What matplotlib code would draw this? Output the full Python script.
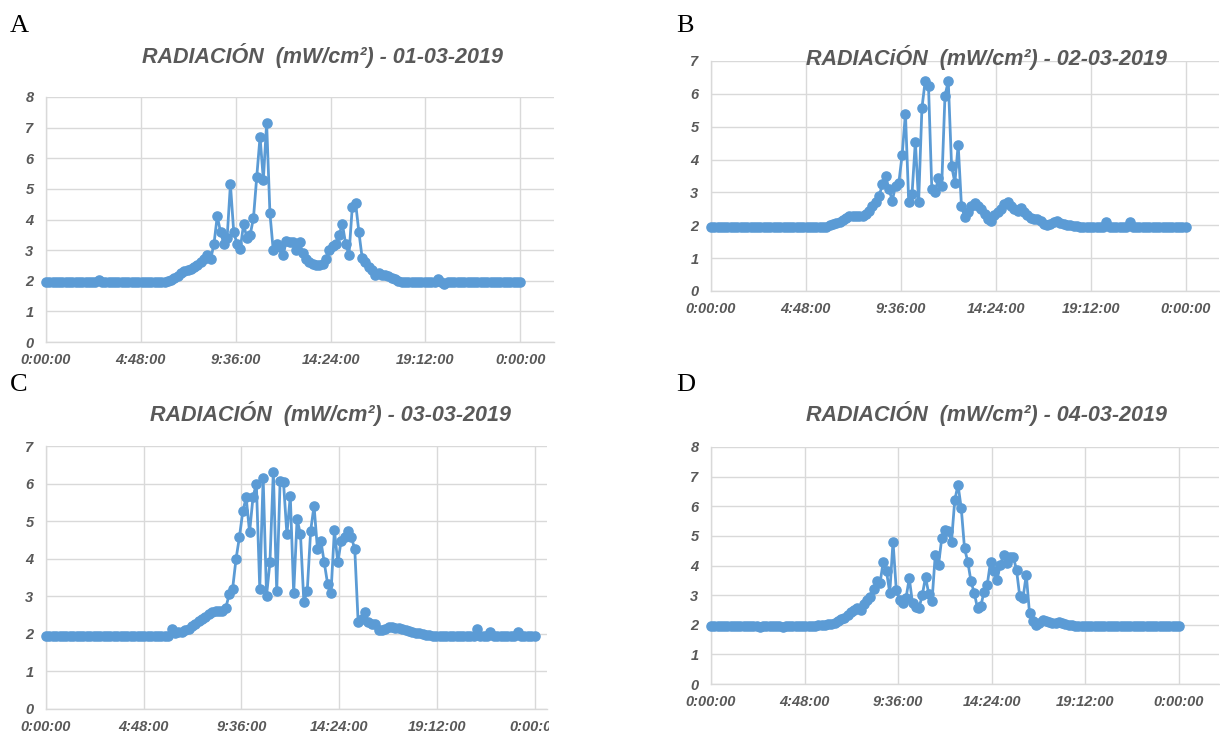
import matplotlib
matplotlib.use("Agg")
import matplotlib.pyplot as plt
from matplotlib.transforms import Bbox
import numpy as np

# sampling grid: one reading every 10 minutes, 0:00 -> 24:00 (hours)
hours = np.arange(145) / 6

# radiation readings (mW/cm2), rows of 2 hours
rad_01 = [
    1.95, 1.95, 1.95, 1.95, 1.95, 1.95, 1.95, 1.95, 1.95, 1.95, 1.95, 1.95,
    1.95, 1.95, 1.95, 1.95, 2.03, 1.95, 1.95, 1.95, 1.95, 1.95, 1.95, 1.95,
    1.95, 1.95, 1.95, 1.95, 1.95, 1.95, 1.95, 1.95, 1.95, 1.95, 1.95, 1.95,
    1.96, 1.98, 2.02, 2.08, 2.15, 2.25, 2.33, 2.35, 2.38, 2.45, 2.52, 2.60,
    2.70, 2.85, 2.70, 3.20, 4.10, 3.60, 3.20, 3.40, 5.15, 3.60, 3.20, 3.05,
    3.85, 3.40, 3.50, 4.05, 5.40, 6.70, 5.30, 7.15, 4.20, 3.00, 3.20, 3.10,
    2.85, 3.30, 3.25, 3.25, 3.00, 3.25, 2.90, 2.70, 2.60, 2.55, 2.50, 2.50,
    2.55, 2.70, 3.00, 3.15, 3.20, 3.50, 3.85, 3.20, 2.85, 4.40, 4.55, 3.60,
    2.75, 2.60, 2.45, 2.35, 2.20, 2.25, 2.20, 2.20, 2.15, 2.10, 2.05, 2.00,
    1.97, 1.95, 1.95, 1.95, 1.95, 1.95, 1.95, 1.95, 1.95, 1.95, 1.95, 2.07,
    1.95, 1.90, 1.95, 1.95, 1.95, 1.95, 1.95, 1.95, 1.95, 1.95, 1.95, 1.95,
    1.95, 1.95, 1.95, 1.95, 1.95, 1.95, 1.95, 1.95, 1.95, 1.95, 1.95, 1.95,
    1.95,
]

rad_02 = [
    1.95, 1.95, 1.95, 1.95, 1.95, 1.95, 1.95, 1.95, 1.95, 1.95, 1.95, 1.95,
    1.95, 1.95, 1.95, 1.95, 1.95, 1.95, 1.95, 1.95, 1.95, 1.95, 1.95, 1.95,
    1.95, 1.95, 1.95, 1.95, 1.95, 1.95, 1.95, 1.95, 1.95, 1.95, 1.95, 1.96,
    2.00, 2.03, 2.06, 2.10, 2.15, 2.22, 2.27, 2.28, 2.27, 2.27, 2.28, 2.35,
    2.45, 2.58, 2.72, 2.88, 3.25, 3.50, 3.10, 2.75, 3.20, 3.30, 4.15, 5.40,
    2.70, 2.95, 4.55, 2.70, 5.57, 6.40, 6.23, 3.10, 3.00, 3.45, 3.20, 5.95,
    6.38, 3.80, 3.30, 4.45, 2.58, 2.25, 2.40, 2.60, 2.68, 2.60, 2.50, 2.35,
    2.20, 2.12, 2.30, 2.40, 2.50, 2.65, 2.72, 2.60, 2.50, 2.45, 2.53, 2.40,
    2.30, 2.22, 2.20, 2.18, 2.12, 2.05, 2.02, 2.05, 2.10, 2.12, 2.08, 2.04,
    2.02, 2.00, 1.98, 1.97, 1.95, 1.95, 1.95, 1.95, 1.95, 1.95, 1.95, 1.95,
    2.10, 1.95, 1.95, 1.95, 1.95, 1.95, 1.95, 2.10, 1.95, 1.95, 1.95, 1.95,
    1.95, 1.95, 1.95, 1.95, 1.95, 1.95, 1.95, 1.95, 1.95, 1.95, 1.95, 1.95,
    1.95,
]

rad_03 = [
    1.95, 1.95, 1.95, 1.95, 1.95, 1.95, 1.95, 1.95, 1.95, 1.95, 1.95, 1.95,
    1.95, 1.95, 1.95, 1.95, 1.95, 1.95, 1.95, 1.95, 1.95, 1.95, 1.95, 1.95,
    1.95, 1.95, 1.95, 1.95, 1.95, 1.95, 1.95, 1.95, 1.95, 1.95, 1.95, 1.95,
    1.95, 2.13, 2.02, 2.04, 2.06, 2.10, 2.14, 2.20, 2.26, 2.33, 2.40, 2.46,
    2.52, 2.57, 2.60, 2.62, 2.60, 2.70, 3.05, 3.20, 3.99, 4.57, 5.26, 5.63,
    4.70, 5.63, 6.00, 3.20, 6.16, 3.02, 3.90, 6.32, 3.13, 6.07, 6.03, 4.65,
    5.67, 3.08, 5.05, 4.65, 2.84, 3.15, 4.74, 5.41, 4.26, 4.48, 3.90, 3.33,
    3.10, 4.76, 3.90, 4.48, 4.57, 4.74, 4.57, 4.26, 2.31, 2.40, 2.58, 2.31,
    2.25, 2.27, 2.09, 2.09, 2.14, 2.19, 2.18, 2.16, 2.15, 2.12, 2.10, 2.08,
    2.05, 2.03, 2.01, 1.99, 1.97, 1.96, 1.95, 1.95, 1.95, 1.95, 1.95, 1.95,
    1.95, 1.95, 1.95, 1.95, 1.95, 1.95, 1.95, 2.13, 1.95, 1.95, 1.95, 2.05,
    1.95, 1.95, 1.95, 1.95, 1.95, 1.95, 1.95, 2.05, 1.95, 1.95, 1.95, 1.95,
    1.95,
]

rad_04 = [
    1.95, 1.95, 1.95, 1.95, 1.95, 1.95, 1.95, 1.95, 1.95, 1.95, 1.95, 1.95,
    1.95, 1.95, 1.95, 1.92, 1.95, 1.95, 1.95, 1.95, 1.95, 1.95, 1.92, 1.95,
    1.95, 1.95, 1.95, 1.95, 1.95, 1.95, 1.96, 1.97, 1.97, 1.98, 1.99, 2.00,
    2.02, 2.04, 2.07, 2.12, 2.18, 2.24, 2.32, 2.42, 2.50, 2.56, 2.50, 2.70,
    2.82, 2.95, 3.20, 3.46, 3.40, 4.13, 3.80, 3.07, 4.81, 3.18, 2.84, 2.73,
    2.90, 3.57, 2.73, 2.60, 2.56, 3.00, 3.60, 3.05, 2.80, 4.36, 4.02, 4.92,
    5.20, 5.15, 4.81, 6.21, 6.72, 5.93, 4.58, 4.13, 3.46, 3.07, 2.56, 2.62,
    3.12, 3.35, 4.13, 3.80, 3.52, 4.02, 4.36, 4.08, 4.30, 4.30, 3.85, 2.96,
    2.90, 3.69, 2.39, 2.11, 2.00, 2.05, 2.15, 2.12, 2.08, 2.06, 2.07, 2.08,
    2.05, 2.03, 2.00, 1.98, 1.96, 1.95, 1.95, 1.95, 1.95, 1.95, 1.95, 1.95,
    1.95, 1.95, 1.95, 1.95, 1.95, 1.95, 1.95, 1.95, 1.95, 1.95, 1.95, 1.95,
    1.95, 1.95, 1.95, 1.95, 1.95, 1.95, 1.95, 1.95, 1.95, 1.95, 1.95, 1.95,
    1.95,
]

xtick_hours = [0, 4.8, 9.6, 14.4, 19.2, 24]
xtick_labels = ["0:00:00", "4:48:00", "9:36:00", "14:24:00", "19:12:00", "0:00:00"]

titles = [
    "RADIACIÓN  (mW/cm²) - 01-03-2019",
    "RADIACiÓN  (mW/cm²) - 02-03-2019",
    "RADIACIÓN  (mW/cm²) - 03-03-2019",
    "RADIACIÓN  (mW/cm²) - 04-03-2019",
]
letters = ["A", "B", "C", "D"]
ymaxes = [8, 7, 7, 8]

W, H = 1220, 734
BLUE = "#5B9BD5"
GRID = "#D9D9D9"
TXT = "#595959"
FONT = "Liberation Sans"

# layout in pixels: left, top, right, bottom, xmax (hours)
boxes = [
    (46, 97, 554, 342, 25.71),
    (711, 61, 1219, 291, 25.69),
    (46, 446, 547, 709, 24.61),
    (711, 447, 1219, 684, 26.05),
]
title_pos = [(322, 56), (987, 57), (331, 413), (987, 414)]
letter_pos = [(10, 32), (676, 32), (10, 391), (676, 391)]

fig = plt.figure(figsize=(W / 100, H / 100), dpi=100)

series = [rad_01, rad_02, rad_03, rad_04]
axes = []
for i, (l, t, r, b, xmax) in enumerate(boxes):
    ax = fig.add_axes([l / W, 1 - b / H, (r - l) / W, (b - t) / H])
    ax.plot(hours, series[i], color=BLUE, lw=2.0, marker="o", ms=6.6,
            mec=BLUE, mfc=BLUE, clip_on=False, zorder=3)
    ax.set_xlim(0, xmax)
    ax.set_ylim(0, ymaxes[i])
    ax.set_xticks(xtick_hours)
    ax.set_xticklabels(xtick_labels)
    ax.set_yticks(range(ymaxes[i] + 1))
    ax.grid(True, color=GRID, lw=1.0)
    ax.set_axisbelow(True)
    for s in ["top", "right"]:
        ax.spines[s].set_visible(False)
    for s in ["left", "bottom"]:
        ax.spines[s].set_color(GRID)
        ax.spines[s].set_linewidth(1.0)
    ax.tick_params(length=0, colors=TXT, labelsize=10.5)
    ax.tick_params(axis="x", pad=8)
    ax.tick_params(axis="y", pad=9)
    for lbl in ax.get_xticklabels() + ax.get_yticklabels():
        lbl.set_fontfamily(FONT)
        lbl.set_fontweight("bold")
        lbl.set_fontstyle("italic")
    axes.append(ax)

    tx, ty = title_pos[i]
    fig.text(tx / W, 1 - ty / H, titles[i], ha="center", va="center",
             fontsize=15.5, color=TXT, fontfamily=FONT, fontweight="bold",
             fontstyle="italic")
    lx, ly = letter_pos[i]
    fig.text(lx / W, 1 - ly / H, letters[i], ha="left", va="baseline",
             fontsize=19, color="black", fontfamily="Liberation Serif")

# panel C's last tick label is cut off at the chart border
fig.canvas.draw()
last = axes[2].get_xticklabels()[-1]
last.set_clip_box(Bbox.from_extents(0, 0, 549, H))
last.set_clip_on(True)

fig.savefig("out.png", dpi=100)
